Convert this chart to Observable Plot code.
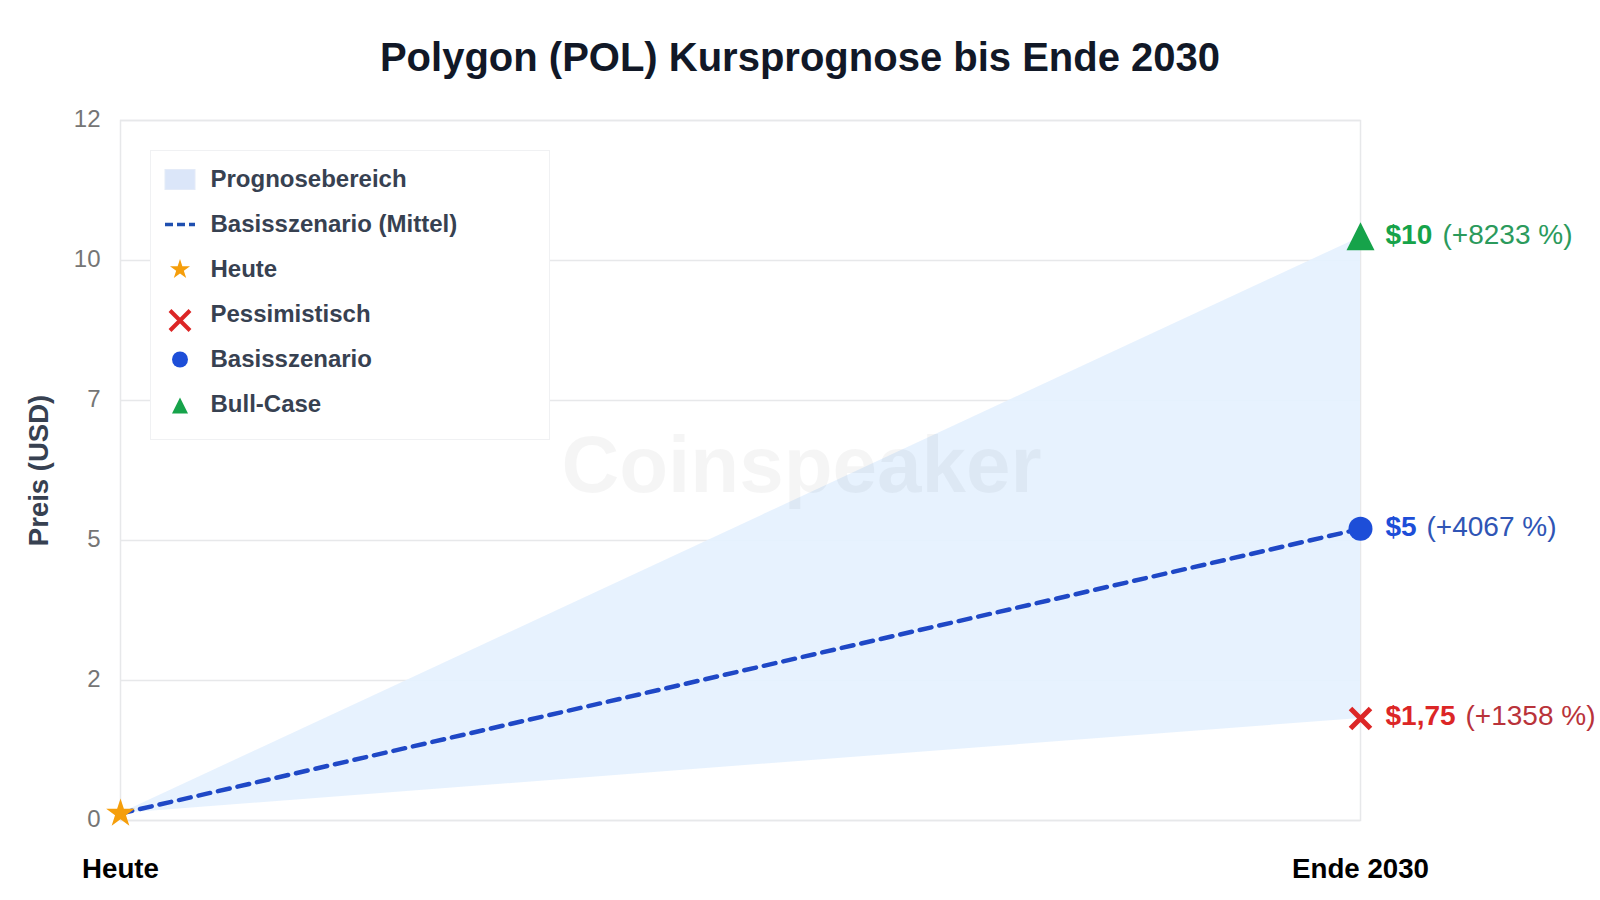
<!DOCTYPE html>
<html lang="de">
<head>
<meta charset="utf-8">
<title>Polygon (POL) Kursprognose bis Ende 2030</title>
<script src="https://cdn.jsdelivr.net/npm/d3@7"></script>
<script src="https://cdn.jsdelivr.net/npm/@observablehq/plot@0.6"></script>
<style>
  html, body { margin: 0; padding: 0; background: #fff; font-family: "Liberation Sans", Arial, sans-serif; }
  #wrap { position: relative; width: 1600px; height: 900px; overflow: hidden; }
  h1 { margin: 0; height: 100px; line-height: 114px; text-align: center; font-size: 40px; font-weight: 700; color: #111827; }
  #legend { position: absolute; left: 149.5px; top: 149.5px; width: 400px; height: 290px; box-sizing: border-box;
            background: #fff; border: 1.5px solid #f0f1f3; padding-top: 6px; }
  .row { display: flex; align-items: center; height: 45px; font-size: 24px; font-weight: 700; color: #374151; position: relative; }
  .row span { position: absolute; left: 60px; }
  .row svg { position: absolute; left: 14px; top: 0; overflow: visible; }
</style>
</head>
<body>
<div id="wrap">
  <h1>Polygon (POL) Kursprognose bis Ende 2030</h1>
  <div id="chart"></div>
  <div id="legend"></div>
</div>
<script>
const periods = ["Heute", "Ende 2030"];
const lowValues = [0.12, 1.75];
const baseValues = [0.12, 5];
const highValues = [0.12, 10];
const startValue = [0.12];
const yTicks = [0, 2.4, 4.8, 7.2, 9.6, 12];
const yLabels = ["0", "2", "5", "7", "10", "12"];
const priceLabels = ["$1,75", "$5", "$10"];
const changeLabels = ["(+1358 %)", "(+4067 %)", "(+8233 %)"];
const scenarioValues = [1.75, 5, 10];
const scenarioColors = ["#dc2626", "#1d4ed8", "#16a34a"];
const changeColors = ["#b9333a", "#2f55b5", "#2b9a5c"];
const changeOffsets = [105, 66, 82];
const legendNames = ["Prognosebereich", "Basisszenario (Mittel)", "Heute", "Pessimistisch", "Basisszenario", "Bull-Case"];

const bandRows = periods.map((p, i) => ({period: p, low: lowValues[i], high: highValues[i], base: baseValues[i]}));

// Triangle with equal base and height, and an X drawn from corner to corner
const triangleShape = {draw(ctx, size) { const r = Math.sqrt(size / Math.PI); ctx.moveTo(0, -r); ctx.lineTo(r, r); ctx.lineTo(-r, r); ctx.closePath(); }};
const timesShape = {draw(ctx, size) { const r = Math.sqrt(size / Math.PI); ctx.moveTo(-r, -r); ctx.lineTo(r, r); ctx.moveTo(-r, r); ctx.lineTo(r, -r); }};

const endLabel = periods[1];
const scenarioMarks = scenarioValues.flatMap((v, i) => [
  Plot.text([priceLabels[i]], {x: () => endLabel, y: () => v, dx: 25, dy: -2, textAnchor: "start", fontSize: 28, fontWeight: 700, fill: scenarioColors[i]}),
  Plot.text([changeLabels[i]], {x: () => endLabel, y: () => v, dx: changeOffsets[i], dy: -2, textAnchor: "start", fontSize: 28, fontWeight: 400, fill: changeColors[i]})
]);

const chart = Plot.plot({
  width: 1600,
  height: 800,
  marginLeft: 120,
  marginRight: 240,
  marginTop: 20,
  marginBottom: 80,
  style: {fontFamily: "'Liberation Sans', Arial, sans-serif", background: "#fff", overflow: "visible"},
  x: {type: "point", domain: periods, padding: 0},
  y: {domain: [0, 12]},
  marks: [
    Plot.gridY(yTicks, {stroke: "#e7e8ea", strokeOpacity: 1, strokeWidth: 1.5}),
    Plot.frame({stroke: "#e7e8ea", strokeWidth: 1.5}),
    Plot.areaY(bandRows, {x: "period", y1: "low", y2: "high", fill: "#e5f1fe", fillOpacity: 0.92, curve: "linear"}),
    Plot.text(["Coinspeaker"], {frameAnchor: "middle", dx: 61, dy: -4, fontSize: 80, fontWeight: 700, fill: "#000", fillOpacity: 0.04}),
    Plot.lineY(bandRows, {x: "period", y: "base", stroke: "#1f48c6", strokeWidth: 4.5, strokeDasharray: "12 8"}),
    Plot.axisY({ticks: yTicks, tickFormat: (d) => yLabels[yTicks.indexOf(d)], label: null, tickSize: 0, tickPadding: 20, fontSize: 24, fill: "#757575", dy: -1}),
    Plot.axisX({label: null, tickSize: 0, tickPadding: 38, fontSize: 27.7, fontWeight: 700, fill: "#000"}),
    Plot.text(["Preis (USD)"], {frameAnchor: "left", textAnchor: "middle", rotate: -90, dx: -81, fontSize: 27.5, fontWeight: 700, fill: "#374151"}),
    Plot.dot(startValue, {x: () => periods[0], y: (d) => d, symbol: "star", r: 9, fill: "#f59e0b"}),
    Plot.dot([lowValues[1]], {x: () => endLabel, y: (d) => d, symbol: timesShape, r: 10, fill: "none", stroke: "#dc2626", strokeWidth: 5}),
    Plot.dot([baseValues[1]], {x: () => endLabel, y: (d) => d, symbol: "circle", r: 12, fill: "#1d4ed8"}),
    Plot.dot([highValues[1]], {x: () => endLabel, y: (d) => d, symbol: triangleShape, r: 14, dy: -1, fill: "#16a34a"}),
    ...scenarioMarks
  ]
});
document.getElementById("chart").append(chart);

// Legend
const sym = (type, r) => d3.symbol().type(type).size(Math.PI * r * r)();
const legendGlyphs = [
  `<rect x="0" y="-10" width="30" height="20" fill="#dbe6f9" stroke="#e4ebf8"/>`,
  `<line x1="0" x2="30" y1="0" y2="0" stroke="#1f4fb0" stroke-width="3.5" stroke-dasharray="8 4"/>`,
  `<path transform="translate(15,0)" d="${sym(d3.symbolStar, 6.3)}" fill="#f59e0b"/>`,
  `<path transform="translate(15,6)" d="${sym(timesShape, 10)}" fill="none" stroke="#dc2626" stroke-width="4"/>`,
  `<path transform="translate(15,0)" d="${sym(d3.symbolCircle, 8)}" fill="#1d4ed8"/>`,
  `<path transform="translate(15,1)" d="${sym(triangleShape, 8)}" fill="#16a34a"/>`
];
document.getElementById("legend").innerHTML = legendNames.map((n, i) =>
  `<div class="row"><svg width="30" height="45"><g transform="translate(0,22.5)">${legendGlyphs[i]}</g></svg><span>${n}</span></div>`
).join("");
</script>
</body>
</html>
